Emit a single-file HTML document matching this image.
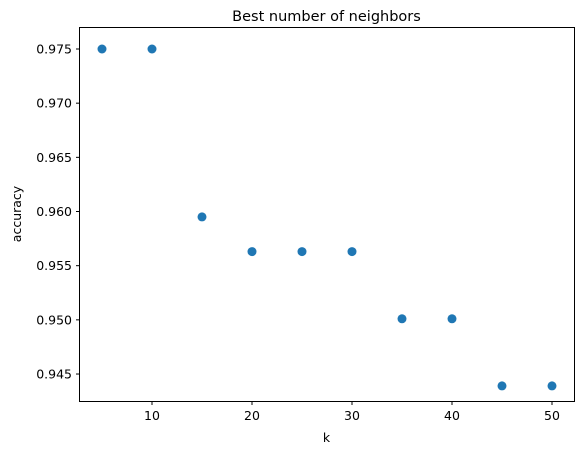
<!DOCTYPE html>
<html><head><meta charset="utf-8"><style>
body{margin:0;background:#fff;}
svg{display:block;font-family:"DejaVu Sans","Liberation Sans",sans-serif;}
</style></head><body>
<svg id="chart" width="584" height="455">
<text x="326.5" y="21" text-anchor="middle" font-size="14.5" fill="#000">Best number of neighbors</text>
<g id="plot"></g>
<rect x="79.5" y="27.5" width="495" height="374" fill="none" stroke="#000" stroke-width="1"/>
<text x="326.5" y="442" text-anchor="middle" font-size="12.5">k</text>
<text transform="translate(21,214) rotate(-90)" text-anchor="middle" font-size="12.5">accuracy</text>
</svg>
<script>
const kValues=[5,10,15,20,25,30,35,40,45,50];
const accuracy=[0.975,0.975,0.9595,0.9563,0.9563,0.9563,0.9501,0.9501,0.9439,0.9439];
const xTicks=[10,20,30,40,50];
const yTicks=[0.945,0.950,0.955,0.960,0.965,0.970,0.975];
const yTickLabels=["0.945","0.950","0.955","0.960","0.965","0.970","0.975"];
const ns="http://www.w3.org/2000/svg";
const g=document.getElementById('plot');
function xs(v){return 102+(v-5)*10;}
function ys(v){return 49+(0.975-v)/0.005*54.17;}
function mk(t,a){const e=document.createElementNS(ns,t);for(const k in a)e.setAttribute(k,a[k]);g.appendChild(e);return e;}
xTicks.forEach(t=>{
 const l=mk('line',{x1:xs(t),x2:xs(t),y1:401.5,y2:405,stroke:'#000'});
 
 
 const tx=mk('text',{x:xs(t),y:420,'text-anchor':'middle','font-size':12.5});
 tx.textContent=t;
 
 
});
yTicks.forEach((t,i)=>{
 const l=mk('line',{x1:76,x2:79.5,y1:ys(t),y2:ys(t),stroke:'#000'});
 
 
 const tx=mk('text',{x:72,y:ys(t)+4.5,'text-anchor':'end','font-size':12.5});
 tx.textContent=yTickLabels[i];
 
 
});
kValues.forEach((k,i)=>{
 const c=mk('circle',{cx:xs(k),cy:ys(accuracy[i]),r:4.5,fill:'#1f77b4'});
 
 
});
</script>
</body></html>
